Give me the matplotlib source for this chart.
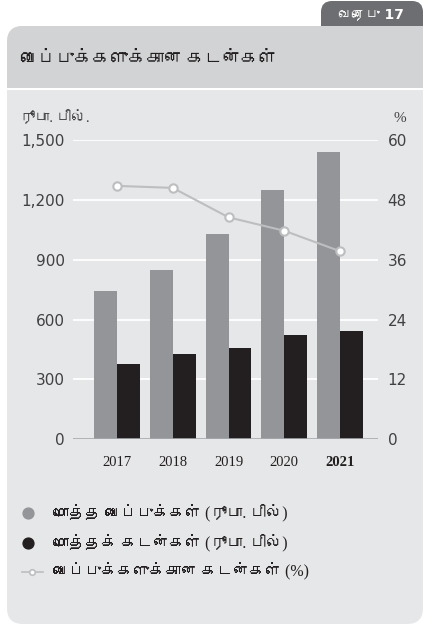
import numpy as np
import matplotlib
matplotlib.use("Agg")
import matplotlib.pyplot as plt
from matplotlib import font_manager
from matplotlib.ft2font import FT2Font
from matplotlib.patches import FancyBboxPatch, Rectangle

years = ["2017", "2018", "2019", "2020", "2021"]
deposits = [745, 848, 1028, 1249, 1439]      # total deposits, Rs. bn
loans = [377, 427, 457, 522, 542]            # total loans, Rs. bn
ratio = [50.8, 50.4, 44.5, 41.8, 37.7]       # loans to deposits, %

left_ticks = [0, 300, 600, 900, 1200, 1500]
right_ticks = [0, 12, 24, 36, 48, 60]

title = "வைப்புக்களுக்கான கடன்கள்"
tab_label = "வரைபு 17"
left_unit = "ரூபா. பில்."
right_unit = "%"
legend_labels = ["மொத்த வைப்புக்கள் (ரூபா. பில்)",
                 "மொத்தக் கடன்கள் (ரூபா. பில்)",
                 "வைப்புக்களுக்கான கடன்கள் (%)"]

GREY_BAR = "#939598"
BLACK_BAR = "#231f20"
LINE = "#bcbec0"
BODY = "#e6e7e8"
HEADER = "#d1d3d4"
TAB = "#6d6e71"
TEXT = "#414042"


def tamil_family():
    # pick any installed font that carries Tamil glyphs
    for f in font_manager.fontManager.ttflist:
        try:
            if 0x0B95 in FT2Font(f.fname).get_charmap():
                return f.name
        except Exception:
            continue
    return None


tf = tamil_family()
# latin digits/punctuation from a serif face, Tamil letters from whatever has them
tam = ["Liberation Serif", tf] if tf else ["Liberation Serif"]
tam_sans = ["DejaVu Sans", tf] if tf else ["DejaVu Sans"]

fig = plt.figure(figsize=(4.24, 6.25), dpi=100)
fig.patch.set_facecolor("white")

# background card drawn in pixel units
bg = fig.add_axes([0, 0, 1, 1])
bg.set_xlim(0, 424)
bg.set_ylim(625, 0)
bg.axis("off")

bg.add_patch(FancyBboxPatch((321, 1), 102, 40, boxstyle="round,pad=0,rounding_size=11",
                            fc=TAB, ec="none"))
bg.add_patch(FancyBboxPatch((7, 26), 416, 598, boxstyle="round,pad=0,rounding_size=16",
                            fc=BODY, ec="none"))
bg.add_patch(FancyBboxPatch((7, 26), 416, 62, boxstyle="round,pad=0,rounding_size=16",
                            fc=HEADER, ec="none"))
bg.add_patch(Rectangle((395, 26), 28, 30, fc=HEADER, ec="none"))
bg.add_patch(Rectangle((7, 60), 416, 28, fc=HEADER, ec="none"))
bg.add_patch(Rectangle((7, 87.5), 416, 2, fc="white", ec="none"))

bg.text(371, 14, tab_label, color="white", fontsize=10, fontweight="bold",
        ha="center", va="center", family=tam_sans)
bg.text(20, 60, title, color="#231f20", fontsize=13, fontweight="bold",
        ha="left", va="center", family=tam)
bg.text(20, 118, left_unit, color=TEXT, fontsize=10.5, ha="left", va="center", family=tam)
bg.text(400, 118, right_unit, color=TEXT, fontsize=11, ha="center", va="center",
        family="Liberation Serif")

# legend rows
rows = [513, 543, 572]
bg.plot([28], [rows[0]], "o", ms=7.8, color=GREY_BAR)
bg.plot([28], [rows[1]], "o", ms=7.8, color=BLACK_BAR)
bg.plot([22, 43], [rows[2], rows[2]], color=LINE, lw=1.2)
bg.plot([32], [rows[2]], "o", ms=4, mfc="white", mec=LINE, mew=1.2)
for y, lab in zip(rows, legend_labels):
    bg.text(53, y, lab, color="#231f20", fontsize=11.5, ha="left", va="center", family=tam)

# main chart
ax = fig.add_axes([73 / 424, 1 - 439.3 / 625, 305 / 424, 299.3 / 625])
ax.set_facecolor("none")
x = np.arange(len(years))
w = 0.41
ax.bar(x - w / 2, deposits, w, color=GREY_BAR, zorder=3)
ax.bar(x + w / 2, loans, w, color=BLACK_BAR, zorder=3)
ax.set_xlim(-0.79, 4.68)
ax.set_ylim(0, 1500)
ax.set_yticks(left_ticks)
ax.set_yticklabels([f"{v:,}" for v in left_ticks])
for v in left_ticks[1:]:
    ax.axhline(v, color="white", lw=1.3, zorder=1)
ax.axhline(0, color="#a7a9ac", lw=1.2, zorder=4)
ax.set_xticks(x)
ax.set_xticklabels(years, family="Liberation Serif", fontsize=10.5, color="#231f20")
ax.get_xticklabels()[-1].set_fontweight("bold")
ax.tick_params(axis="x", length=0, pad=12)
ax.tick_params(axis="y", length=0, pad=6, labelsize=11, labelcolor=TEXT)
for s in ax.spines.values():
    s.set_visible(False)

ax2 = ax.twinx()
ax2.plot(x, ratio, color=LINE, lw=1.5, marker="o", ms=6, mfc="white", mec=LINE,
         mew=1.5, zorder=5)
ax2.set_ylim(0, 60)
ax2.set_yticks(right_ticks)
ax2.tick_params(axis="y", length=0, pad=7, labelsize=11, labelcolor=TEXT)
for s in ax2.spines.values():
    s.set_visible(False)

fig.savefig("out.png", dpi=100)
